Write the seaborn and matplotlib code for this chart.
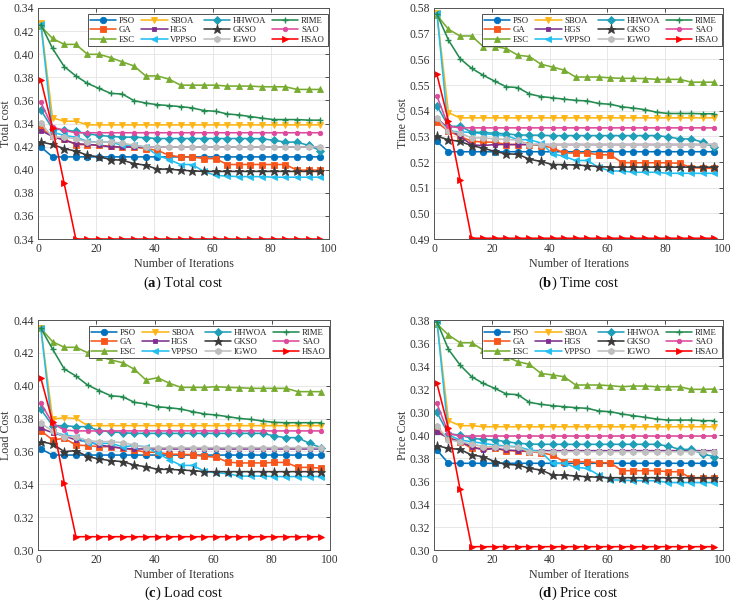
import matplotlib
matplotlib.use("Agg")
import matplotlib.pyplot as plt
import pandas as pd
import seaborn as sns

# ---------------- data ----------------
iterations = [1, 5, 9, 13, 17, 21, 25, 29, 33, 37, 41, 45, 49, 53, 57, 61, 65, 69, 73, 77, 81, 85, 89, 93, 97]
algorithms = ["PSO", "GA", "ESC", "SBOA", "HGS", "VPPSO", "HHWOA", "GKSO", "IGWO", "RIME", "SAO", "HSAO"]

# (a) Total cost  (plotted on a continuous scale 0.34-0.54, labelled as in the source)
a_PSO = [0.4197, 0.4111, 0.4111, 0.4111, 0.4111, 0.4111, 0.4111, 0.4111, 0.4111, 0.4111, 0.4111, 0.4111, 0.4111, 0.4111, 0.4111, 0.4111, 0.4111, 0.4111, 0.4111, 0.4111, 0.4111, 0.4111, 0.4111, 0.4111, 0.4111]
a_GA = [0.4360, 0.4288, 0.4268, 0.4217, 0.4217, 0.4211, 0.4202, 0.4197, 0.4197, 0.4182, 0.4168, 0.4125, 0.4111, 0.4111, 0.4096, 0.4096, 0.4045, 0.4045, 0.4045, 0.4045, 0.4045, 0.4045, 0.3996, 0.3996, 0.3996]
a_ESC = [0.5242, 0.5136, 0.5085, 0.5085, 0.4999, 0.4999, 0.4970, 0.4933, 0.4898, 0.4812, 0.4812, 0.4784, 0.4732, 0.4732, 0.4732, 0.4732, 0.4724, 0.4724, 0.4724, 0.4718, 0.4718, 0.4718, 0.4695, 0.4695, 0.4695]
a_SBOA = [0.5270, 0.4449, 0.4420, 0.4420, 0.4388, 0.4388, 0.4388, 0.4388, 0.4388, 0.4388, 0.4388, 0.4388, 0.4388, 0.4388, 0.4388, 0.4388, 0.4388, 0.4388, 0.4388, 0.4388, 0.4388, 0.4388, 0.4388, 0.4388, 0.4388]
a_HGS = [0.4339, 0.4288, 0.4254, 0.4225, 0.4219, 0.4211, 0.4197, 0.4197, 0.4197, 0.4197, 0.4197, 0.4197, 0.4197, 0.4197, 0.4197, 0.4197, 0.4197, 0.4197, 0.4197, 0.4197, 0.4197, 0.4197, 0.4197, 0.4197, 0.4197]
a_VPPSO = [0.5262, 0.4325, 0.4297, 0.4282, 0.4245, 0.4239, 0.4239, 0.4211, 0.4211, 0.4197, 0.4125, 0.4088, 0.4045, 0.4045, 0.3985, 0.3950, 0.3945, 0.3940, 0.3940, 0.3940, 0.3935, 0.3935, 0.3935, 0.3935, 0.3935]
a_HHWOA = [0.4517, 0.4354, 0.4345, 0.4331, 0.4311, 0.4297, 0.4288, 0.4282, 0.4282, 0.4277, 0.4270, 0.4270, 0.4270, 0.4270, 0.4270, 0.4270, 0.4270, 0.4270, 0.4270, 0.4268, 0.4255, 0.4239, 0.4239, 0.4210, 0.4165]
a_GKSO = [0.4239, 0.4219, 0.4182, 0.4162, 0.4125, 0.4111, 0.4088, 0.4082, 0.4053, 0.4039, 0.4005, 0.4005, 0.3996, 0.3990, 0.3985, 0.3985, 0.3985, 0.3985, 0.3985, 0.3985, 0.3985, 0.3985, 0.3985, 0.3985, 0.3985]
a_IGWO = [0.4403, 0.4282, 0.4282, 0.4268, 0.4239, 0.4239, 0.4239, 0.4231, 0.4211, 0.4197, 0.4197, 0.4197, 0.4197, 0.4197, 0.4197, 0.4197, 0.4197, 0.4197, 0.4197, 0.4197, 0.4197, 0.4197, 0.4197, 0.4197, 0.4197]
a_RIME = [0.5257, 0.5050, 0.4893, 0.4812, 0.4747, 0.4704, 0.4661, 0.4655, 0.4598, 0.4577, 0.4563, 0.4555, 0.4546, 0.4535, 0.4512, 0.4506, 0.4483, 0.4474, 0.4460, 0.4446, 0.4434, 0.4434, 0.4434, 0.4429, 0.4429]
a_SAO = [0.4583, 0.4368, 0.4340, 0.4320, 0.4320, 0.4320, 0.4320, 0.4320, 0.4320, 0.4320, 0.4320, 0.4320, 0.4320, 0.4320, 0.4320, 0.4320, 0.4320, 0.4320, 0.4320, 0.4320, 0.4320, 0.4320, 0.4320, 0.4320, 0.4320]
a_HSAO = [0.4775, 0.4363, 0.3881, 0.3400, 0.3400, 0.3400, 0.3400, 0.3400, 0.3400, 0.3400, 0.3400, 0.3400, 0.3400, 0.3400, 0.3400, 0.3400, 0.3400, 0.3400, 0.3400, 0.3400, 0.3400, 0.3400, 0.3400, 0.3400, 0.3400]

# (b) Time cost
b_PSO = [0.5280, 0.5240, 0.5240, 0.5240, 0.5240, 0.5240, 0.5240, 0.5240, 0.5240, 0.5240, 0.5240, 0.5240, 0.5240, 0.5240, 0.5240, 0.5240, 0.5240, 0.5240, 0.5240, 0.5240, 0.5240, 0.5240, 0.5240, 0.5240, 0.5240]
b_GA = [0.5355, 0.5320, 0.5300, 0.5281, 0.5278, 0.5277, 0.5268, 0.5268, 0.5268, 0.5264, 0.5255, 0.5235, 0.5235, 0.5235, 0.5228, 0.5228, 0.5198, 0.5197, 0.5197, 0.5197, 0.5197, 0.5195, 0.5178, 0.5176, 0.5175]
b_ESC = [0.5772, 0.5717, 0.5691, 0.5691, 0.5650, 0.5650, 0.5642, 0.5616, 0.5611, 0.5581, 0.5570, 0.5558, 0.5531, 0.5531, 0.5531, 0.5528, 0.5526, 0.5526, 0.5525, 0.5522, 0.5522, 0.5522, 0.5511, 0.5511, 0.5511]
b_SBOA = [0.5780, 0.5392, 0.5372, 0.5372, 0.5372, 0.5372, 0.5372, 0.5372, 0.5372, 0.5372, 0.5372, 0.5372, 0.5372, 0.5372, 0.5372, 0.5372, 0.5372, 0.5372, 0.5372, 0.5372, 0.5372, 0.5372, 0.5372, 0.5372, 0.5372]
b_HGS = [0.5370, 0.5330, 0.5300, 0.5267, 0.5264, 0.5268, 0.5268, 0.5268, 0.5268, 0.5268, 0.5268, 0.5268, 0.5268, 0.5268, 0.5268, 0.5268, 0.5268, 0.5268, 0.5268, 0.5268, 0.5268, 0.5268, 0.5268, 0.5268, 0.5268]
b_VPPSO = [0.5780, 0.5320, 0.5318, 0.5315, 0.5310, 0.5307, 0.5303, 0.5287, 0.5287, 0.5274, 0.5232, 0.5222, 0.5206, 0.5206, 0.5179, 0.5165, 0.5165, 0.5160, 0.5160, 0.5160, 0.5156, 0.5156, 0.5156, 0.5156, 0.5156]
b_HHWOA = [0.5420, 0.5339, 0.5339, 0.5317, 0.5315, 0.5312, 0.5310, 0.5305, 0.5305, 0.5304, 0.5303, 0.5303, 0.5303, 0.5303, 0.5303, 0.5303, 0.5303, 0.5303, 0.5303, 0.5303, 0.5298, 0.5290, 0.5290, 0.5277, 0.5257]
b_GKSO = [0.5300, 0.5287, 0.5280, 0.5264, 0.5254, 0.5241, 0.5232, 0.5230, 0.5211, 0.5202, 0.5190, 0.5190, 0.5188, 0.5186, 0.5182, 0.5180, 0.5180, 0.5180, 0.5180, 0.5180, 0.5180, 0.5180, 0.5180, 0.5180, 0.5180]
b_IGWO = [0.5372, 0.5320, 0.5313, 0.5294, 0.5294, 0.5290, 0.5288, 0.5285, 0.5268, 0.5268, 0.5268, 0.5268, 0.5268, 0.5268, 0.5268, 0.5268, 0.5268, 0.5268, 0.5268, 0.5268, 0.5268, 0.5268, 0.5268, 0.5268, 0.5268]
b_RIME = [0.5776, 0.5675, 0.5603, 0.5565, 0.5538, 0.5515, 0.5493, 0.5490, 0.5465, 0.5455, 0.5450, 0.5445, 0.5440, 0.5438, 0.5428, 0.5425, 0.5415, 0.5410, 0.5404, 0.5394, 0.5389, 0.5389, 0.5389, 0.5388, 0.5388]
b_SAO = [0.5457, 0.5339, 0.5333, 0.5333, 0.5333, 0.5333, 0.5333, 0.5333, 0.5333, 0.5333, 0.5333, 0.5333, 0.5333, 0.5333, 0.5333, 0.5333, 0.5333, 0.5333, 0.5333, 0.5333, 0.5333, 0.5333, 0.5333, 0.5333, 0.5333]
b_HSAO = [0.5541, 0.5359, 0.5131, 0.4903, 0.4903, 0.4903, 0.4903, 0.4903, 0.4903, 0.4903, 0.4903, 0.4903, 0.4903, 0.4903, 0.4903, 0.4903, 0.4903, 0.4903, 0.4903, 0.4903, 0.4903, 0.4903, 0.4903, 0.4903, 0.4903]

# (c) Load cost
c_PSO = [0.3615, 0.3578, 0.3578, 0.3578, 0.3578, 0.3578, 0.3578, 0.3578, 0.3578, 0.3578, 0.3578, 0.3578, 0.3578, 0.3578, 0.3578, 0.3578, 0.3578, 0.3578, 0.3578, 0.3578, 0.3578, 0.3578, 0.3578, 0.3578, 0.3578]
c_GA = [0.3726, 0.3670, 0.3680, 0.3639, 0.3635, 0.3629, 0.3629, 0.3619, 0.3609, 0.3595, 0.3595, 0.3583, 0.3583, 0.3580, 0.3570, 0.3565, 0.3535, 0.3530, 0.3530, 0.3530, 0.3533, 0.3533, 0.3503, 0.3503, 0.3498]
c_ESC = [0.4349, 0.4268, 0.4234, 0.4234, 0.4201, 0.4177, 0.4157, 0.4140, 0.4100, 0.4035, 0.4049, 0.4015, 0.3990, 0.3990, 0.3990, 0.3994, 0.3990, 0.3988, 0.3984, 0.3984, 0.3984, 0.3984, 0.3964, 0.3964, 0.3964]
c_SBOA = [0.4349, 0.3797, 0.3805, 0.3801, 0.3757, 0.3757, 0.3757, 0.3757, 0.3757, 0.3757, 0.3757, 0.3757, 0.3757, 0.3757, 0.3757, 0.3757, 0.3757, 0.3757, 0.3757, 0.3757, 0.3757, 0.3757, 0.3757, 0.3757, 0.3757]
c_HGS = [0.3741, 0.3714, 0.3694, 0.3670, 0.3660, 0.3639, 0.3629, 0.3619, 0.3615, 0.3615, 0.3615, 0.3615, 0.3615, 0.3615, 0.3615, 0.3615, 0.3615, 0.3615, 0.3615, 0.3615, 0.3615, 0.3615, 0.3615, 0.3615, 0.3615]
c_VPPSO = [0.4349, 0.3720, 0.3700, 0.3690, 0.3649, 0.3649, 0.3649, 0.3629, 0.3635, 0.3629, 0.3588, 0.3550, 0.3515, 0.3515, 0.3480, 0.3470, 0.3465, 0.3450, 0.3450, 0.3450, 0.3447, 0.3447, 0.3447, 0.3447, 0.3447]
c_HHWOA = [0.3856, 0.3757, 0.3757, 0.3751, 0.3751, 0.3726, 0.3720, 0.3714, 0.3710, 0.3710, 0.3710, 0.3710, 0.3710, 0.3710, 0.3710, 0.3710, 0.3710, 0.3710, 0.3710, 0.3710, 0.3694, 0.3684, 0.3684, 0.3649, 0.3623]
c_GKSO = [0.3660, 0.3645, 0.3599, 0.3605, 0.3568, 0.3554, 0.3544, 0.3538, 0.3517, 0.3507, 0.3491, 0.3491, 0.3487, 0.3483, 0.3477, 0.3477, 0.3477, 0.3477, 0.3477, 0.3477, 0.3477, 0.3477, 0.3477, 0.3477, 0.3477]
c_IGWO = [0.3771, 0.3725, 0.3690, 0.3690, 0.3666, 0.3660, 0.3660, 0.3653, 0.3639, 0.3623, 0.3623, 0.3623, 0.3623, 0.3623, 0.3623, 0.3623, 0.3623, 0.3623, 0.3623, 0.3623, 0.3623, 0.3623, 0.3623, 0.3623, 0.3623]
c_RIME = [0.4349, 0.4223, 0.4102, 0.4059, 0.4004, 0.3970, 0.3939, 0.3933, 0.3899, 0.3889, 0.3872, 0.3866, 0.3858, 0.3842, 0.3828, 0.3822, 0.3812, 0.3801, 0.3795, 0.3785, 0.3777, 0.3775, 0.3775, 0.3775, 0.3775]
c_SAO = [0.3893, 0.3771, 0.3730, 0.3725, 0.3725, 0.3725, 0.3725, 0.3725, 0.3725, 0.3725, 0.3725, 0.3725, 0.3725, 0.3725, 0.3725, 0.3725, 0.3725, 0.3725, 0.3725, 0.3725, 0.3725, 0.3725, 0.3725, 0.3725, 0.3725]
c_HSAO = [0.4045, 0.3781, 0.3410, 0.3081, 0.3081, 0.3081, 0.3081, 0.3081, 0.3081, 0.3081, 0.3081, 0.3081, 0.3081, 0.3081, 0.3081, 0.3081, 0.3081, 0.3081, 0.3081, 0.3081, 0.3081, 0.3081, 0.3081, 0.3081, 0.3081]

# (d) Price cost  (continuous scale 0.30-0.50, labelled as in the source)
d_PSO = [0.3870, 0.3754, 0.3754, 0.3754, 0.3754, 0.3754, 0.3754, 0.3754, 0.3754, 0.3754, 0.3754, 0.3754, 0.3754, 0.3754, 0.3754, 0.3754, 0.3754, 0.3754, 0.3754, 0.3754, 0.3754, 0.3754, 0.3754, 0.3754, 0.3754]
d_GA = [0.4038, 0.3980, 0.3942, 0.3884, 0.3884, 0.3884, 0.3864, 0.3861, 0.3855, 0.3846, 0.3826, 0.3768, 0.3768, 0.3768, 0.3759, 0.3759, 0.3690, 0.3690, 0.3690, 0.3690, 0.3681, 0.3681, 0.3623, 0.3623, 0.3623]
d_ESC = [0.4965, 0.4870, 0.4803, 0.4803, 0.4739, 0.4696, 0.4681, 0.4638, 0.4615, 0.4536, 0.4522, 0.4507, 0.4435, 0.4435, 0.4435, 0.4429, 0.4420, 0.4426, 0.4426, 0.4420, 0.4420, 0.4420, 0.4397, 0.4397, 0.4400]
d_SBOA = [0.4994, 0.4125, 0.4081, 0.4081, 0.4072, 0.4072, 0.4072, 0.4072, 0.4072, 0.4072, 0.4072, 0.4072, 0.4072, 0.4072, 0.4072, 0.4072, 0.4072, 0.4072, 0.4072, 0.4072, 0.4072, 0.4072, 0.4072, 0.4072, 0.4072]
d_HGS = [0.4029, 0.3971, 0.3942, 0.3899, 0.3870, 0.3884, 0.3870, 0.3864, 0.3864, 0.3864, 0.3864, 0.3864, 0.3864, 0.3864, 0.3864, 0.3864, 0.3864, 0.3864, 0.3864, 0.3864, 0.3864, 0.3864, 0.3864, 0.3864, 0.3864]
d_VPPSO = [0.4994, 0.4000, 0.3957, 0.3942, 0.3928, 0.3913, 0.3904, 0.3899, 0.3870, 0.3855, 0.3754, 0.3754, 0.3719, 0.3710, 0.3652, 0.3609, 0.3609, 0.3603, 0.3603, 0.3603, 0.3586, 0.3586, 0.3586, 0.3586, 0.3586]
d_HHWOA = [0.4197, 0.4009, 0.4000, 0.3971, 0.3962, 0.3957, 0.3942, 0.3928, 0.3922, 0.3919, 0.3919, 0.3919, 0.3919, 0.3919, 0.3919, 0.3919, 0.3919, 0.3919, 0.3919, 0.3919, 0.3904, 0.3875, 0.3875, 0.3835, 0.3812]
d_GKSO = [0.3907, 0.3884, 0.3875, 0.3826, 0.3812, 0.3768, 0.3745, 0.3739, 0.3710, 0.3696, 0.3652, 0.3652, 0.3643, 0.3638, 0.3632, 0.3629, 0.3629, 0.3629, 0.3629, 0.3629, 0.3629, 0.3629, 0.3629, 0.3629, 0.3629]
d_IGWO = [0.4078, 0.3957, 0.3942, 0.3922, 0.3899, 0.3899, 0.3899, 0.3893, 0.3855, 0.3855, 0.3855, 0.3855, 0.3855, 0.3855, 0.3855, 0.3855, 0.3855, 0.3855, 0.3855, 0.3855, 0.3855, 0.3855, 0.3855, 0.3855, 0.3855]
d_RIME = [0.4986, 0.4745, 0.4609, 0.4507, 0.4449, 0.4406, 0.4357, 0.4351, 0.4284, 0.4267, 0.4255, 0.4246, 0.4238, 0.4232, 0.4209, 0.4203, 0.4183, 0.4168, 0.4154, 0.4139, 0.4130, 0.4130, 0.4130, 0.4125, 0.4125]
d_SAO = [0.4275, 0.4015, 0.3991, 0.3991, 0.3991, 0.3991, 0.3991, 0.3991, 0.3991, 0.3991, 0.3991, 0.3991, 0.3991, 0.3991, 0.3991, 0.3991, 0.3991, 0.3991, 0.3991, 0.3991, 0.3991, 0.3991, 0.3991, 0.3991, 0.3991]
d_HSAO = [0.4449, 0.4058, 0.3528, 0.3029, 0.3029, 0.3029, 0.3029, 0.3029, 0.3029, 0.3029, 0.3029, 0.3029, 0.3029, 0.3029, 0.3029, 0.3029, 0.3029, 0.3029, 0.3029, 0.3029, 0.3029, 0.3029, 0.3029, 0.3029, 0.3029]

# tick positions and labels (labels copied as printed in the source figure)
a_ytick_pos = [0.34, 0.36, 0.38, 0.40, 0.42, 0.44, 0.46, 0.48, 0.50, 0.52, 0.54]
a_ytick_lab = ["0.34", "0.36", "0.38", "0.40", "0.42", "0.34", "0.36", "0.38", "0.40", "0.42", "0.34"]
b_ytick_pos = [0.49, 0.50, 0.51, 0.52, 0.53, 0.54, 0.55, 0.56, 0.57, 0.58]
b_ytick_lab = ["0.49", "0.50", "0.51", "0.52", "0.53", "0.54", "0.55", "0.56", "0.57", "0.58"]
c_ytick_pos = [0.30, 0.32, 0.34, 0.36, 0.38, 0.40, 0.42, 0.44]
c_ytick_lab = ["0.30", "0.32", "0.34", "0.36", "0.38", "0.40", "0.42", "0.44"]
d_ytick_pos = [0.30, 0.32, 0.34, 0.36, 0.38, 0.40, 0.42, 0.44, 0.46, 0.48, 0.50]
d_ytick_lab = ["0.30", "0.32", "0.34", "0.36", "0.38", "0.40", "0.30", "0.32", "0.34", "0.36", "0.38"]
xtick_pos = [0, 20, 40, 60, 80, 100]

y_labels = ["Total cost", "Time Cost", "Load Cost", "Price Cost"]
captions = [r"($\mathbf{a}$) Total cost", r"($\mathbf{b}$) Time cost",
            r"($\mathbf{c}$) Load cost", r"($\mathbf{d}$) Price cost"]

# ---------------- style ----------------
colors = {"PSO": "#0072BD", "GA": "#F8561B", "ESC": "#77AC30", "SBOA": "#FDB515",
          "HGS": "#7E2F8E", "VPPSO": "#22BEF0", "HHWOA": "#1F9EB8", "GKSO": "#3A3A3A",
          "IGWO": "#BEBEBE", "RIME": "#238B4F", "SAO": "#DD4A9B", "HSAO": "#FF0000"}
markers = {"PSO": "o", "GA": "s", "ESC": "^", "SBOA": "v", "HGS": "s", "VPPSO": "<",
           "HHWOA": "D", "GKSO": "*", "IGWO": "h", "RIME": "+", "SAO": "o", "HSAO": ">"}
msizes = {"PSO": 4.6, "GA": 4.2, "ESC": 5.0, "SBOA": 5.0, "HGS": 2.6, "VPPSO": 5.0,
          "HHWOA": 3.8, "GKSO": 6.5, "IGWO": 4.6, "RIME": 4.5, "SAO": 3.2, "HSAO": 5.0}

sns.set_theme(style="whitegrid")
plt.rcParams["font.family"] = ["Liberation Serif", "DejaVu Serif"]
plt.rcParams["mathtext.fontset"] = "custom"
plt.rcParams["mathtext.rm"] = "Liberation Serif"
plt.rcParams["mathtext.bf"] = "Liberation Serif:bold"
plt.rcParams["text.color"] = "#222222"

panels = [
    ("a", [a_PSO, a_GA, a_ESC, a_SBOA, a_HGS, a_VPPSO, a_HHWOA, a_GKSO, a_IGWO, a_RIME, a_SAO, a_HSAO],
     a_ytick_pos, a_ytick_lab, [0.0514, 0.6056, 0.3938, 0.3812]),
    ("b", [b_PSO, b_GA, b_ESC, b_SBOA, b_HGS, b_VPPSO, b_HHWOA, b_GKSO, b_IGWO, b_RIME, b_SAO, b_HSAO],
     b_ytick_pos, b_ytick_lab, [0.5873, 0.6056, 0.3911, 0.3812]),
    ("c", [c_PSO, c_GA, c_ESC, c_SBOA, c_HGS, c_VPPSO, c_HHWOA, c_GKSO, c_IGWO, c_RIME, c_SAO, c_HSAO],
     c_ytick_pos, c_ytick_lab, [0.0514, 0.0924, 0.3951, 0.3795]),
    ("d", [d_PSO, d_GA, d_ESC, d_SBOA, d_HGS, d_VPPSO, d_HHWOA, d_GKSO, d_IGWO, d_RIME, d_SAO, d_HSAO],
     d_ytick_pos, d_ytick_lab, [0.5873, 0.0924, 0.3911, 0.3795]),
]

fig = plt.figure(figsize=(7.39, 6.06), dpi=100)

for idx, (key, series, ypos, ylab, rect) in enumerate(panels):
    ax = fig.add_axes(rect)
    frames = []
    for alg, vals in zip(algorithms, series):
        frames.append(pd.DataFrame({"Iteration": iterations, "Cost": vals, "Algorithm": alg}))
    df = pd.concat(frames, ignore_index=True)
    for alg in algorithms:
        sub = df[df["Algorithm"] == alg]
        sns.lineplot(data=sub, x="Iteration", y="Cost", ax=ax, color=colors[alg],
                     marker=markers[alg], markersize=msizes[alg],
                     markeredgecolor=colors[alg], markerfacecolor=colors[alg],
                     markeredgewidth=1.0 if markers[alg] == "+" else 0.6,
                     linewidth=1.15, errorbar=None, label=alg, legend=False)
    ax.set_xlim(0, 100)
    ax.set_ylim(ypos[0], ypos[-1])
    ax.set_xticks(xtick_pos)
    ax.set_xticklabels([str(v) for v in xtick_pos])
    ax.set_yticks(ypos)
    ax.set_yticklabels(ylab)
    ax.set_xlabel("Number of Iterations", fontsize=8.6, color="#333333", labelpad=2)
    ax.set_ylabel(y_labels[idx], fontsize=8.6, color="#333333")
    ax.yaxis.set_label_coords(-0.088, 0.5)
    ax.grid(True, color="#E3E3E3", linewidth=0.6)
    for sp in ax.spines.values():
        sp.set_visible(True)
        sp.set_color("#555555")
        sp.set_linewidth(0.7)
    ax.tick_params(direction="in", length=3, width=0.6, top=True, right=True,
                   labelsize=8.4, colors="#333333", pad=3)
    lines = ax.get_lines()[:len(algorithms)]
    leg = ax.legend(handles=lines, labels=algorithms, ncol=4, loc="upper right",
                    bbox_to_anchor=(0.995, 0.972), borderaxespad=0.0,
                    fontsize=6.3, frameon=True, fancybox=False, framealpha=1.0,
                    edgecolor="#333333", handlelength=3.0, handletextpad=0.3,
                    columnspacing=0.7, labelspacing=0.12, borderpad=0.3)
    leg.get_frame().set_linewidth(0.6)
    cx = rect[0] + rect[2] / 2
    cy = 0.533 if idx < 2 else 0.0215
    fig.text(cx, cy, captions[idx], ha="center", va="center", fontsize=10.5, color="#111111")

fig.savefig("out.png", dpi=100)
